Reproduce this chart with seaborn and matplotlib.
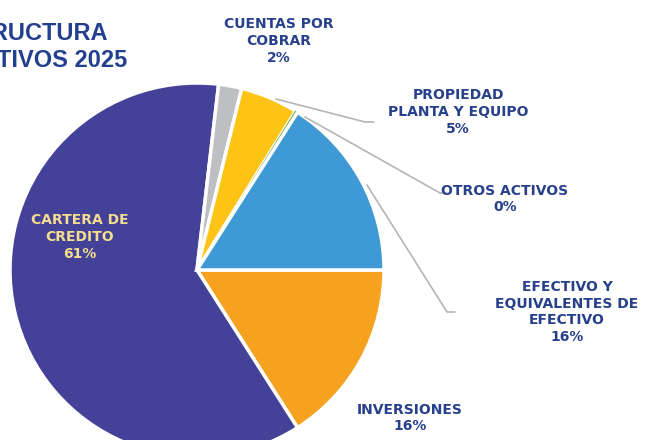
import numpy as np
import pandas as pd
import seaborn as sns
import matplotlib
matplotlib.use("Agg")
import matplotlib.pyplot as plt

# data (clockwise from 3 o'clock)
categories = ["INVERSIONES", "CARTERA DE\nCREDITO", "CUENTAS POR\nCOBRAR",
              "PROPIEDAD\nPLANTA Y EQUIPO", "OTROS ACTIVOS",
              "EFECTIVO Y\nEQUIVALENTES DE\nEFECTIVO"]
shares = [16, 61, 2, 5, 0.2, 16]
slice_colors = ["#F7A21F", "#444199", "#BEBFC3", "#FDC416", "#71AE48", "#3F99D4"]

df = pd.DataFrame({"cat": categories, "share": shares, "color": slice_colors})
df["pct"] = (df["share"] / df["share"].sum() * 100).round().astype(int).astype(str) + "%"

sns.set_theme(style="white")
plt.rcParams["font.family"] = ["DejaVu Sans"]

navy = "#27408B"

fig = plt.figure(figsize=(6.45, 4.4), dpi=100)
ax = fig.add_axes([0, 0, 1, 1])

wedges, _ = ax.pie(df["share"], colors=df["color"], startangle=0, counterclock=False,
                   center=(197, 170), radius=187,
                   wedgeprops=dict(edgecolor="white", linewidth=2.5))
# the 0% slice is only a sliver
wedges[4].set_edgecolor(df["color"][4])
wedges[4].set_linewidth(0.8)

ax.set_xlim(0, 645)
ax.set_ylim(0, 440)
ax.set_aspect("auto")
ax.axis("off")

# label positions in pixels (x, y from top)
label_pos = {
    0: (410, 418),
    1: (80, 237),
    2: (279, 41),
    3: (458, 112),
    4: (505, 199),
    5: (567, 312),
}
for i, (x, y) in label_pos.items():
    col = "#F3DD8E" if i == 1 else navy
    ax.text(x, 440 - y, df["cat"][i] + "\n" + df["pct"][i], ha="center", va="center",
            fontsize=10, fontweight="bold", color=col, linespacing=1.25)

# leader lines
leaders = [
    [(276, 99), (365, 122), (374, 122)],
    [(305, 117), (440, 193), (447, 193)],
    [(367, 185), (447, 312), (455, 312)],
]
for pts in leaders:
    xs = [p[0] for p in pts]
    ys = [440 - p[1] for p in pts]
    ax.plot(xs, ys, color="#B5B5B5", lw=1.2)

# title (cut off at the left edge)
ax.text(108, 440 - 33, "ESTRUCTURA", ha="right", va="center", fontsize=17,
        fontweight="bold", color="#23408E", family="Liberation Sans")
ax.text(127, 440 - 60, "ACTIVOS 2025", ha="right", va="center", fontsize=17,
        fontweight="bold", color="#23408E", family="Liberation Sans")

fig.savefig("out.png", dpi=100)
